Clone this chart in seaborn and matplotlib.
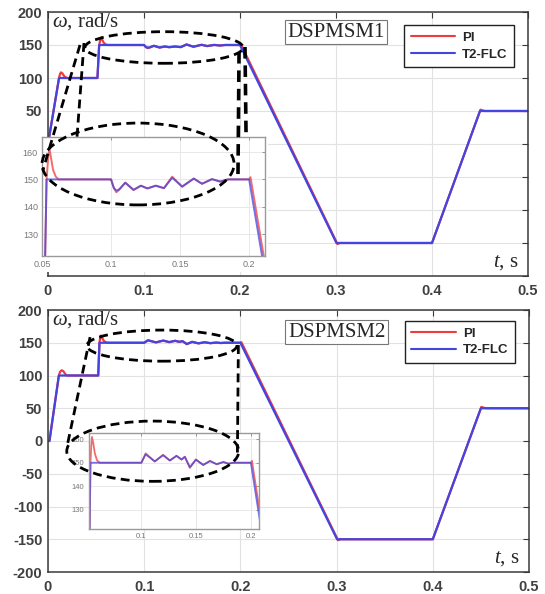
import matplotlib
matplotlib.use("Agg")
import matplotlib.pyplot as plt
import numpy as np
import pandas as pd
import seaborn as sns
from matplotlib.patches import Ellipse, Rectangle
from matplotlib.lines import Line2D

# ---------------- speed responses (time in s, speed in rad/s) ----------------
# DSPMSM1
t_pi_1 = [0, 0.0115, 0.0125, 0.0135, 0.0150, 0.0170, 0.0195, 0.0515, 0.0533, 0.0545,
          0.0553, 0.0565, 0.0580, 0.0600, 0.0620, 0.1000, 0.1020, 0.1038, 0.1055, 0.1103,
          0.1163, 0.1216, 0.1263, 0.1324, 0.1383, 0.1443, 0.1515, 0.1599, 0.1659, 0.1731,
          0.1791, 0.1845, 0.2000, 0.2010, 0.3015, 0.3040, 0.4000, 0.4505, 0.4525, 0.4550, 0.5000]
w_pi_1 = [0, 100, 106, 108.5, 107, 102.5, 100, 100, 150, 158,
          161.5, 158, 153.5, 151, 150, 150, 147, 145.3, 146, 148.8,
          146.1, 147.7, 146.7, 147.7, 146.8, 151.0, 147.3, 150.3, 148.4, 150.1,
          149.2, 150, 150, 150.8, -151.5, -150, -150, 52, 51, 50, 50]
t_flc_1 = [0, 0.0115, 0.0515, 0.0533, 0.1000, 0.1020, 0.1040, 0.1060, 0.1103, 0.1163,
           0.1216, 0.1263, 0.1324, 0.1383, 0.1443, 0.1515, 0.1599, 0.1659, 0.1731, 0.1791,
           0.1845, 0.2000, 0.3005, 0.4000, 0.4500, 0.5000]
w_flc_1 = [0, 100, 100, 150, 150, 146.8, 145.9, 146.4, 148.8, 146.2,
           147.7, 146.7, 147.7, 146.8, 150.6, 147.4, 150.3, 148.4, 150.1, 149.2,
           150, 150, -150, -150, 50, 50]

# DSPMSM2
t_pi_2 = [0, 0.0015, 0.0113, 0.0125, 0.0142, 0.0160, 0.0178, 0.0195, 0.0522, 0.0535,
          0.0542, 0.0549, 0.0560, 0.0575, 0.0595, 0.0620, 0.1000, 0.1039, 0.1122, 0.1198,
          0.1260, 0.1321, 0.1367, 0.1397, 0.1443, 0.1498, 0.1565, 0.1627, 0.1688, 0.1749,
          0.1795, 0.1840, 0.2000, 0.2010, 0.3015, 0.3040, 0.4000, 0.4505, 0.4525, 0.4550, 0.5000]
w_pi_2 = [0, 0, 100, 105.5, 108, 106.5, 102.5, 100, 100, 150,
          157, 161, 158.5, 154, 151, 150, 150, 154, 150.5, 153.4,
          150.9, 153, 151.3, 152.6, 147.8, 151.4, 149, 150.8, 149.3, 150.3,
          149.6, 150, 150, 150.8, -151.5, -150, -150, 52, 51, 50, 50]
t_flc_2 = [0, 0.0015, 0.0113, 0.0522, 0.0535, 0.1000, 0.1039, 0.1122, 0.1198, 0.1260,
           0.1321, 0.1367, 0.1397, 0.1443, 0.1498, 0.1565, 0.1627, 0.1688, 0.1749, 0.1795,
           0.1840, 0.2000, 0.3005, 0.4000, 0.4500, 0.5000]
w_flc_2 = [0, 0, 100, 100, 150, 150, 153.6, 150.6, 153.2, 151,
           152.9, 151.4, 152.5, 148.1, 151.3, 149.1, 150.7, 149.4, 150.3, 149.6,
           150, 150, -150, -150, 50, 50]

controllers = ["PI", "T2-FLC"]
motor_names = ["DSPMSM1", "DSPMSM2"]
x_ticks = [0, 0.1, 0.2, 0.3, 0.4, 0.5]
x_tick_labels = ["0", "0.1", "0.2", "0.3", "0.4", "0.5"]
y_ticks = [-200, -150, -100, -50, 0, 50, 100, 150, 200]
inset_y_ticks = [130, 140, 150, 160]

palette = {"PI": "#ee3b3b", "T2-FLC": "#4444e2"}

sns.set_theme(style="white")
plt.rcParams["font.family"] = ["Liberation Sans", "DejaVu Sans"]
plt.rcParams["mathtext.fontset"] = "custom"
plt.rcParams["mathtext.it"] = "Liberation Serif:italic"
plt.rcParams["mathtext.rm"] = "Liberation Serif"

W, H = 545, 594
fig = plt.figure(figsize=(W / 100, H / 100), dpi=100)


def fr(x0, y0, x1, y1):
    """figure-fraction rectangle from pixel box (origin top-left)"""
    return [x0 / W, 1 - y1 / H, (x1 - x0) / W, (y1 - y0) / H]


def frame(t_pi, w_pi, t_flc, w_flc):
    return pd.concat([
        pd.DataFrame({"t": t_pi, "w": w_pi, "ctrl": "PI"}),
        pd.DataFrame({"t": t_flc, "w": w_flc, "ctrl": "T2-FLC"}),
    ], ignore_index=True)


def style_main(ax, min_label=-200):
    ax.set_xlim(0, 0.5)
    ax.set_ylim(-200, 200)
    ax.set_xticks(x_ticks)
    ax.set_xticklabels(x_tick_labels)
    ax.set_yticks(y_ticks)
    ax.set_yticklabels([str(v) if v >= min_label else "" for v in y_ticks])
    ax.grid(True, color="#e2e2e2", lw=0.8)
    ax.set_axisbelow(True)
    ax.tick_params(direction="in", top=True, right=True, length=4, width=0.8,
                   color="#3a3a3a", labelsize=10.5, labelcolor="#404040")
    ax.tick_params(axis="x", pad=6)
    ax.tick_params(axis="y", pad=4)
    for lab in ax.get_xticklabels() + ax.get_yticklabels():
        lab.set_fontweight("bold")
    for s in ax.spines.values():
        s.set_color("#3a3a3a")
        s.set_linewidth(1.1)
    ax.set_xlabel("")
    ax.set_ylabel("")


def style_inset(ax, xlim, ylim, xticks, xlabels, fs):
    ax.set_xlim(*xlim)
    ax.set_ylim(*ylim)
    ax.set_xticks(xticks)
    ax.set_xticklabels(xlabels)
    ax.set_yticks(inset_y_ticks)
    ax.set_yticklabels([str(v) for v in inset_y_ticks])
    ax.grid(True, color="#e8e8e8", lw=0.7)
    ax.set_axisbelow(True)
    ax.tick_params(direction="in", top=True, right=True, length=2, width=0.6,
                   color="#888888", labelsize=fs, labelcolor="#777777", pad=3)
    for s in ax.spines.values():
        s.set_color("#9a9a9a")
        s.set_linewidth(1.0)
    ax.set_facecolor("white")
    ax.set_xlabel("")
    ax.set_ylabel("")


def draw_speed(ax, df, lw, alpha=1.0):
    sns.lineplot(data=df, x="t", y="w", hue="ctrl", hue_order=controllers,
                 palette=palette, estimator=None, sort=False, lw=lw,
                 alpha=alpha, ax=ax, legend=False)


def decorate(ax, name, name_y, legend_anchor):
    ax.text(0.008, 0.963, r"$\omega$, rad/s", transform=ax.transAxes,
            ha="left", va="center", fontsize=15, family="Liberation Serif")
    ax.text(0.981, 0.053, r"$t$, s", transform=ax.transAxes,
            ha="right", va="center", fontsize=15, family="Liberation Serif")
    ax.text(0.6, name_y, name, transform=ax.transAxes,
            ha="center", va="center", fontsize=15, family="Liberation Serif",
            bbox=dict(boxstyle="square,pad=0.12", fc="white", ec="#777777", lw=0.8))
    handles = [Line2D([], [], color=palette[c], lw=1.5) for c in controllers]
    leg = ax.legend(handles, controllers, loc="upper right",
                    bbox_to_anchor=legend_anchor, borderaxespad=0,
                    fancybox=False, framealpha=1,
                    edgecolor="#222222", handlelength=3.4,
                    borderpad=0.5, labelspacing=0.35, handletextpad=0.5,
                    prop=dict(weight="bold", size=9.5))
    leg.get_frame().set_linewidth(1.0)


def dashed(ax, ellipses, segments, seg_lw):
    for (cx, cy, w, h) in ellipses:
        e = Ellipse((cx, cy), w, h, transform=ax.transData, fill=False,
                    ec="black", lw=2.0, ls=(0, (3.2, 1.9)), zorder=10, clip_on=False)
        fig.add_artist(e)
    for (x0, y0, x1, y1), lw in zip(segments, seg_lw):
        ln = Line2D([x0, x1], [y0, y1], transform=ax.transData, color="black",
                    lw=lw, ls=(0, (3.2, 1.9)), zorder=10, clip_on=False)
        fig.add_artist(ln)


# ---------------- DSPMSM1 ----------------
df1 = frame(t_pi_1, w_pi_1, t_flc_1, w_flc_1)
ax1 = fig.add_axes(fr(48, 12, 528, 276), zorder=0)
draw_speed(ax1, df1, lw=1.6)
style_main(ax1, min_label=50)
decorate(ax1, motor_names[0], 0.924, (0.971, 0.951))

# white backing behind the zoom window
fig.add_artist(Rectangle((0, 1 - 272 / H), 268 / W, (272 - 137) / H,
                         transform=fig.transFigure, fc="white", ec="none", zorder=2))

ins1 = fig.add_axes(fr(42, 137, 265, 256), zorder=5)
draw_speed(ins1, df1, lw=1.4, alpha=0.75)
style_inset(ins1, (0.05, 0.2115), (122, 165.5), [0.05, 0.1, 0.15, 0.2],
            ["0.05", "0.1", "0.15", "0.2"], 6.5)

dashed(ax1,
       [(0.1208, 146.2, 0.1646, 47.9), (0.0938, -30.3, 0.200, 124)],
       [(0.0375, 153.0, 0.0302, 10.6), (0.0333, 150.0, -0.0052, -39.4),
        (0.1990, 139.4, 0.1979, -47.0), (0.2052, 147.0, 0.2063, 13.6)],
       [2.0, 2.0, 2.6, 2.6])

# ---------------- DSPMSM2 ----------------
df2 = frame(t_pi_2, w_pi_2, t_flc_2, w_flc_2)
ax2 = fig.add_axes(fr(48, 310, 529, 572), zorder=0)
draw_speed(ax2, df2, lw=1.6)
style_main(ax2)
decorate(ax2, motor_names[1], 0.916, (0.971, 0.959))

ins2 = fig.add_axes(fr(88.5, 433, 258.5, 529), zorder=5)
draw_speed(ins2, df2, lw=1.3, alpha=0.75)
style_inset(ins2, (0.0517, 0.207), (121.7, 162.7), [0.1, 0.15, 0.2],
            ["0.1", "0.15", "0.2"], 5.5)

dashed(ax2,
       [(0.1184, 145.6, 0.156, 47.5), (0.1089, -15.6, 0.1788, 92)],
       [(0.04375, 158.6, 0.0198, -8.4), (0.1979, 146.4, 0.1969, -17.6)],
       [2.0, 2.0])

fig.savefig("out.png", dpi=100)
